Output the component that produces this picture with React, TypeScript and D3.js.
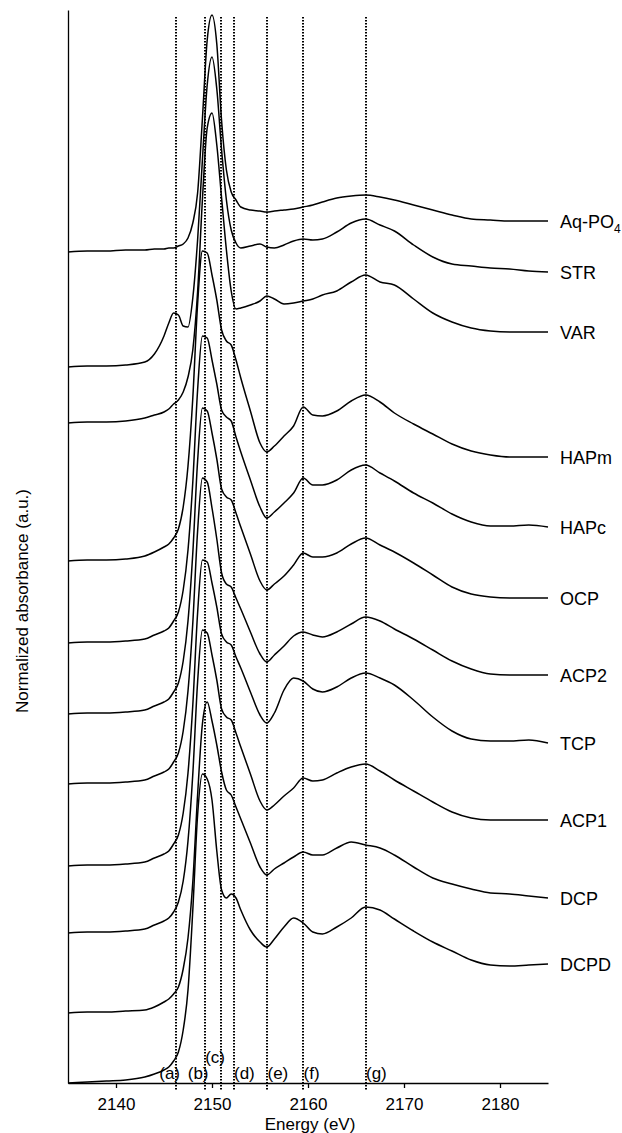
import React, { useEffect, useRef } from 'react';
import * as d3 from 'd3';

// energy grid shared by all spectra (eV)
const energy = [2135, 2137, 2139, 2141, 2143, 2144, 2145, 2145.5, 2146, 2146.5, 2147, 2147.5, 2148, 2148.5, 2149, 2149.5, 2150, 2150.5, 2151, 2151.5, 2152, 2152.5, 2153, 2154, 2155, 2155.7, 2156.5, 2157.5, 2158.5, 2159.5, 2160.5, 2161.5, 2163, 2164.5, 2166, 2167.5, 2169, 2171, 2173, 2175, 2177, 2179, 2181, 2183, 2185];

// normalized absorbance, each relative to its own pre-edge
const aqPO4 = [0, 0.01, 0.01, 0.02, 0.02, 0.03, 0.03, 0.04, 0.04, 0.06, 0.08, 0.14, 0.29, 0.59, 1.33, 2.12, 2.37, 2.08, 1.31, 0.82, 0.60, 0.52, 0.45, 0.42, 0.41, 0.40, 0.41, 0.42, 0.43, 0.45, 0.47, 0.50, 0.54, 0.56, 0.57, 0.55, 0.52, 0.47, 0.42, 0.37, 0.33, 0.32, 0.31, 0.31, 0.31];
const str = [0, 0.01, 0.01, 0.02, 0.05, 0.13, 0.31, 0.44, 0.54, 0.52, 0.41, 0.40, 0.69, 1.27, 2.07, 2.82, 3.10, 2.78, 2.17, 1.67, 1.37, 1.24, 1.19, 1.21, 1.23, 1.20, 1.19, 1.22, 1.26, 1.28, 1.27, 1.28, 1.35, 1.44, 1.48, 1.42, 1.36, 1.22, 1.10, 1.03, 1.01, 0.99, 0.98, 0.96, 0.95];
const variscite = [0, 0.01, 0.01, 0.02, 0.05, 0.08, 0.11, 0.14, 0.19, 0.23, 0.31, 0.46, 0.73, 1.31, 2.23, 2.95, 3.10, 2.78, 2.25, 1.73, 1.32, 1.14, 1.15, 1.18, 1.22, 1.27, 1.24, 1.19, 1.20, 1.22, 1.24, 1.28, 1.32, 1.41, 1.48, 1.41, 1.38, 1.24, 1.10, 1.01, 0.95, 0.92, 0.91, 0.91, 0.91];
const hapm = [0, 0.01, 0.01, 0.02, 0.05, 0.09, 0.14, 0.17, 0.23, 0.32, 0.54, 0.95, 1.63, 2.57, 3.10, 3.08, 2.86, 2.61, 2.31, 2.20, 2.16, 2.01, 1.83, 1.50, 1.18, 1.09, 1.15, 1.25, 1.35, 1.54, 1.46, 1.45, 1.50, 1.60, 1.66, 1.59, 1.48, 1.37, 1.27, 1.17, 1.10, 1.06, 1.04, 1.04, 1.04];
const hapc = [0, 0.01, 0.01, 0.02, 0.04, 0.08, 0.12, 0.15, 0.22, 0.31, 0.53, 0.93, 1.61, 2.53, 3.07, 3.05, 2.83, 2.59, 2.33, 2.26, 2.22, 2.06, 1.91, 1.63, 1.36, 1.25, 1.31, 1.40, 1.50, 1.65, 1.58, 1.58, 1.63, 1.73, 1.78, 1.70, 1.62, 1.50, 1.40, 1.29, 1.21, 1.17, 1.17, 1.18, 1.16];
const ocp = [0, 0.01, 0.01, 0.02, 0.04, 0.08, 0.12, 0.15, 0.22, 0.31, 0.53, 0.93, 1.61, 2.53, 3.06, 3.03, 2.81, 2.55, 2.25, 2.17, 2.14, 2.01, 1.87, 1.60, 1.33, 1.24, 1.30, 1.38, 1.49, 1.61, 1.57, 1.57, 1.61, 1.70, 1.76, 1.69, 1.62, 1.51, 1.39, 1.27, 1.20, 1.17, 1.16, 1.16, 1.16];
const acp2 = [0, 0.01, 0.01, 0.02, 0.04, 0.08, 0.12, 0.15, 0.22, 0.31, 0.53, 0.93, 1.61, 2.53, 3.06, 3.02, 2.76, 2.45, 2.11, 2.00, 1.97, 1.86, 1.75, 1.52, 1.30, 1.22, 1.29, 1.38, 1.48, 1.52, 1.49, 1.47, 1.52, 1.60, 1.67, 1.63, 1.55, 1.45, 1.34, 1.23, 1.15, 1.10, 1.09, 1.09, 1.09];
const tcp = [0, 0.01, 0.01, 0.02, 0.04, 0.08, 0.12, 0.15, 0.22, 0.31, 0.53, 0.93, 1.61, 2.53, 3.06, 3.04, 2.83, 2.59, 2.32, 2.24, 2.21, 2.09, 1.98, 1.74, 1.51, 1.43, 1.53, 1.76, 1.88, 1.85, 1.77, 1.74, 1.79, 1.88, 1.93, 1.88, 1.81, 1.66, 1.49, 1.35, 1.27, 1.25, 1.25, 1.26, 1.23];
const acp1 = [0, 0.01, 0.01, 0.02, 0.04, 0.08, 0.12, 0.15, 0.21, 0.31, 0.52, 0.92, 1.59, 2.51, 3.03, 3.00, 2.78, 2.53, 2.24, 2.16, 2.13, 2.00, 1.86, 1.59, 1.32, 1.23, 1.28, 1.37, 1.45, 1.55, 1.52, 1.53, 1.60, 1.66, 1.69, 1.62, 1.53, 1.42, 1.31, 1.21, 1.15, 1.13, 1.13, 1.13, 1.13];
const dcp = [0, 0.01, 0.01, 0.02, 0.03, 0.06, 0.11, 0.14, 0.19, 0.26, 0.44, 0.75, 1.31, 2.18, 2.89, 3.11, 2.92, 2.68, 2.41, 2.23, 2.18, 2.06, 1.94, 1.70, 1.46, 1.38, 1.44, 1.50, 1.56, 1.61, 1.58, 1.58, 1.65, 1.71, 1.68, 1.65, 1.58, 1.46, 1.35, 1.29, 1.24, 1.20, 1.19, 1.17, 1.15];
const dcpd = [0, 0.01, 0.02, 0.03, 0.06, 0.09, 0.13, 0.16, 0.22, 0.31, 0.53, 0.93, 1.73, 2.68, 3.09, 3.04, 2.83, 2.32, 1.93, 1.85, 1.89, 1.85, 1.73, 1.53, 1.41, 1.36, 1.44, 1.56, 1.65, 1.60, 1.51, 1.49, 1.56, 1.65, 1.76, 1.73, 1.64, 1.52, 1.41, 1.32, 1.23, 1.18, 1.17, 1.18, 1.19];

const names = ['Aq-PO4', 'STR', 'VAR', 'HAPm', 'HAPc', 'OCP', 'ACP2', 'TCP', 'ACP1', 'DCP', 'DCPD'];
const offsets = [8.31, 7.16, 6.6, 5.22, 4.4, 3.69, 2.99, 2.17, 1.5, 0.7, 0];
const series = [aqPO4, str, variscite, hapm, hapc, ocp, acp2, tcp, acp1, dcp, dcpd];

// reference energies (dotted lines)
const markerEnergy = [2146.25, 2149.22, 2150.94, 2152.24, 2155.73, 2159.48, 2165.99];
const markerLabel = ['(a)', '(b)', '(c)', '(d)', '(e)', '(f)', '(g)'];

const xTicks = [2140, 2150, 2160, 2170, 2180];

const FONT = '"Liberation Sans", Arial, sans-serif';

const App = () => {
  const ref = useRef<SVGSVGElement | null>(null);

  useEffect(() => {
    const width = 622;
    const height = 1133;

    const x = d3.scaleLinear().domain([2135, 2185]).range([68, 548]);
    const y = d3.scaleLinear().domain([0, 10.73]).range([1083, 10]);

    const svg = d3.select(ref.current).attr('width', width).attr('height', height);
    svg.selectAll('*').remove();

    // dotted reference lines
    svg
      .append('g')
      .selectAll('line')
      .data(markerEnergy)
      .join('line')
      .attr('x1', d => Math.round(x(d)))
      .attr('x2', d => Math.round(x(d)))
      .attr('y1', y(10.66))
      .attr('y2', y(-0.07))
      .attr('stroke', '#000')
      .attr('stroke-width', 2)
      .attr('stroke-dasharray', '1.6 1.4');

    svg
      .append('g')
      .attr('font-family', FONT)
      .attr('font-size', 17)
      .selectAll('text')
      .data(markerEnergy)
      .join('text')
      .attr('x', (d, i) => (i < 3 ? x(d) + 4 : x(d) + 0.5))
      .attr('y', (d, i) => (i === 2 ? y(0) - 20 : y(0) - 4))
      .attr('text-anchor', (d, i) => (i < 3 ? 'end' : 'start'))
      .text((d, i) => markerLabel[i]);

    // spectra
    series.forEach((values, k) => {
      const line = d3
        .line<number>()
        .x((d, i) => x(energy[i]))
        .y(d => y(d + offsets[k]))
        .curve(d3.curveMonotoneX);

      svg
        .append('path')
        .datum(values)
        .attr('fill', 'none')
        .attr('stroke', '#000')
        .attr('stroke-width', 1.5)
        .attr('d', line);

      const label = svg
        .append('text')
        .attr('x', x(2185) + 12)
        .attr('y', y(values[values.length - 1] + offsets[k]))
        .attr('dy', '0.4em')
        .attr('font-family', FONT)
        .attr('font-size', 18);

      if (names[k] === 'Aq-PO4') {
        label.append('tspan').text('Aq-PO');
        label.append('tspan').attr('font-size', 12).attr('dy', 5).text('4');
      } else {
        label.text(names[k]);
      }
    });

    // axes
    const xAxis = svg
      .append('g')
      .attr('transform', `translate(0,${y(0)})`)
      .call(
        d3
          .axisBottom(x)
          .tickValues(xTicks)
          .tickSize(5)
          .tickSizeOuter(0)
          .tickPadding(10)
          .tickFormat(d3.format('d'))
      );
    xAxis.attr('font-size', 17).attr('font-family', FONT);
    xAxis.selectAll('path, line').attr('stroke-width', 1.3);

    const yAxis = svg
      .append('g')
      .attr('transform', `translate(${x(2135)},0)`)
      .call(d3.axisLeft(y).tickValues([]).tickSizeOuter(0));
    yAxis.select('path').attr('stroke-width', 1.3);

    svg
      .append('text')
      .attr('x', 310)
      .attr('y', 1130)
      .attr('text-anchor', 'middle')
      .attr('font-family', FONT)
      .attr('font-size', 17)
      .text('Energy (eV)');

    svg
      .append('text')
      .attr('transform', 'translate(28,601) rotate(-90)')
      .attr('text-anchor', 'middle')
      .attr('font-family', FONT)
      .attr('font-size', 17)
      .text('Normalized absorbance (a.u.)');
  }, []);

  return (
    <svg
      ref={ref}
      style={{ position: 'absolute', left: 0, top: 0, background: '#fff' }}
    />
  );
};

export default App;
